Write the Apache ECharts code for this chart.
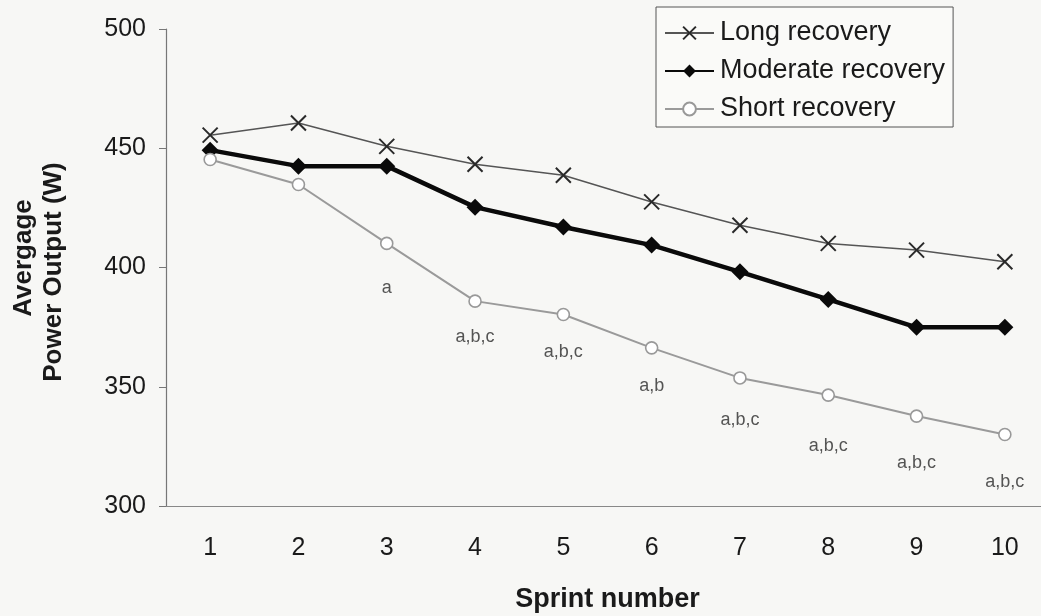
<!DOCTYPE html>
<html>
<head>
<meta charset="utf-8">
<script src="https://cdn.jsdelivr.net/npm/echarts@6/dist/echarts.min.js"></script>
<style>
  html, body { margin: 0; padding: 0; background: #f7f7f5; }
  #chart { width: 1041px; height: 616px; }
</style>
</head>
<body>
<div id="chart"></div>
<script>
// Sprint numbers on the x axis
const sprints = ['1', '2', '3', '4', '5', '6', '7', '8', '9', '10'];

// Average power output (W) per sprint for each recovery condition
const longRecovery     = [455.5, 460.6, 450.8, 443.3, 438.7, 427.5, 417.7, 410.1, 407.3, 402.4];
const moderateRecovery = [449.2, 442.5, 442.5, 425.3, 417.0, 409.4, 398.2, 386.6, 374.9, 374.9];
const shortRecovery    = [445.3, 434.8, 410.1, 385.9, 380.3, 366.3, 353.7, 346.5, 337.7, 330.0];

// Significance notes under the short-recovery curve: sprint, height (W), text
const noteSprints = ['3', '4', '5', '6', '7', '8', '9', '10'];
const noteLevels  = [391.2, 370.7, 364.4, 350.4, 336.0, 325.1, 318.2, 310.2];
const noteTexts   = ['a', 'a,b,c', 'a,b,c', 'a,b', 'a,b,c', 'a,b,c', 'a,b,c', 'a,b,c'];

// Y axis range and tick step
const yMin = 300, yMax = 500, yStep = 50;

const FONT = '"Liberation Sans", Arial, Helvetica, sans-serif';
const crossSymbol = 'path://M0,0L10,10M10,0L0,10';

const chart = echarts.init(document.getElementById('chart'), null, { renderer: 'canvas' });

chart.setOption({
  backgroundColor: '#f7f7f5',
  animation: false,
  textStyle: { fontFamily: FONT },
  grid: { left: 166, right: -8, top: 29, bottom: 110, containLabel: false, outerBoundsMode: 'none' },
  legend: {
    orient: 'vertical',
    left: 656,
    top: 7,
    padding: [12, 8, 4, 8],
    itemGap: 10,
    itemWidth: 49,
    itemHeight: 16,
    borderColor: '#555',
    borderWidth: 1,
    backgroundColor: '#fafaf8',
    textStyle: { fontSize: 27, color: '#1a1a1a', fontFamily: FONT, lineHeight: 28, padding: [0, 0, 0, 1] },
    data: ['Long recovery', 'Moderate recovery', 'Short recovery']
  },
  xAxis: {
    type: 'category',
    data: sprints,
    boundaryGap: true,
    name: 'Sprint number',
    nameLocation: 'middle',
    nameGap: 80,
    nameTextStyle: { fontSize: 27, fontWeight: 'bold', color: '#1a1a1a', fontFamily: FONT },
    axisLine: { lineStyle: { color: '#888', width: 1.2 } },
    axisTick: { show: false },
    axisLabel: { fontSize: 25, color: '#1a1a1a', margin: 30 },
    splitLine: { show: false }
  },
  yAxis: {
    type: 'value',
    min: yMin,
    max: yMax,
    interval: yStep,
    axisLine: { show: true, lineStyle: { color: '#777', width: 1.2 } },
    axisTick: { show: true, length: 7, lineStyle: { color: '#777' } },
    axisLabel: { fontSize: 25, color: '#1a1a1a', margin: 20 },
    splitLine: { show: false }
  },
  graphic: [
    {
      type: 'text', x: 24, y: 258, rotation: Math.PI / 2,
      style: { text: 'Avergage', font: 'bold 26px ' + FONT, fill: '#1a1a1a', align: 'center', verticalAlign: 'middle' }
    },
    {
      type: 'text', x: 54, y: 272, rotation: Math.PI / 2,
      style: { text: 'Power Output (W)', font: 'bold 26px ' + FONT, fill: '#1a1a1a', align: 'center', verticalAlign: 'middle' }
    }
  ],
  series: [
    {
      name: 'Long recovery',
      type: 'line',
      data: longRecovery,
      symbol: crossSymbol,
      symbolSize: 15,
      lineStyle: { color: '#555', width: 1.5 },
      itemStyle: { color: '#2a2a2a', borderColor: '#2a2a2a', borderWidth: 2 },
      emphasis: { disabled: true },
      z: 3
    },
    {
      name: 'Moderate recovery',
      type: 'line',
      data: moderateRecovery,
      symbol: 'diamond',
      symbolSize: 17,
      lineStyle: { color: '#0a0a0a', width: 4.5 },
      itemStyle: { color: '#0a0a0a', borderColor: '#0a0a0a', borderWidth: 0 },
      emphasis: { disabled: true },
      z: 4
    },
    {
      name: 'Short recovery',
      type: 'line',
      data: shortRecovery,
      symbol: 'circle',
      symbolSize: 12,
      showAllSymbol: true,
      lineStyle: { color: '#9a9a9a', width: 2 },
      itemStyle: { color: '#ffffff', borderColor: '#999', borderWidth: 1.6 },
      emphasis: { disabled: true },
      z: 5
    },
    {
      name: 'notes',
      type: 'scatter',
      data: noteSprints.map((s, i) => [s, noteLevels[i]]),
      symbolSize: 0,
      silent: true,
      label: {
        show: true,
        position: 'inside',
        formatter: p => noteTexts[p.dataIndex],
        fontSize: 18,
        color: '#2a2a2a',
        fontFamily: FONT
      },
      z: 2
    }
  ]
});
</script>
</body>
</html>
